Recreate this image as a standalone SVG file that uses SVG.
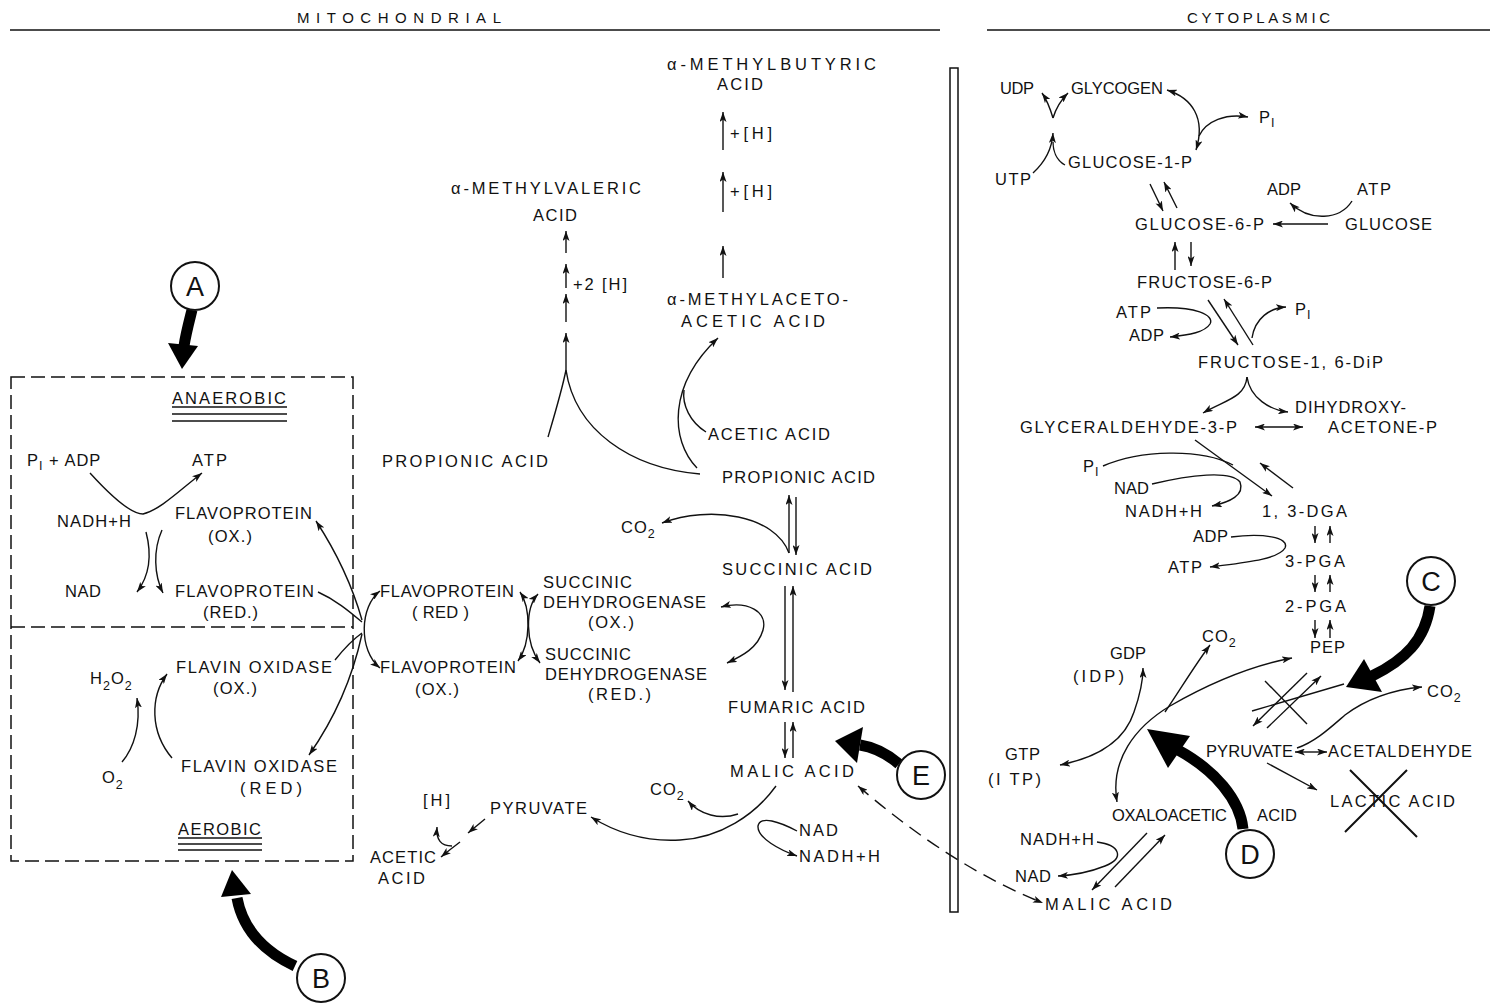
<svg xmlns="http://www.w3.org/2000/svg" width="1490" height="1003" viewBox="0 0 1490 1003">
<defs>
<style>
text{font-family:"Liberation Sans",Arial,sans-serif;font-size:16.5px;fill:#111;letter-spacing:1px}
.h{font-size:15px;letter-spacing:5px}
.lbl{font-size:27px;letter-spacing:0;text-anchor:middle}
.sub{font-size:12.5px}
.c{fill:none;stroke:#111;stroke-width:1.4}
.d{fill:none;stroke:#111;stroke-width:1.4;stroke-dasharray:14 8}
.b{fill:none;stroke:#000;stroke-width:11}
.hd{fill:#000}
.ring{fill:#fff;stroke:#111;stroke-width:2}
.rule{stroke:#111;stroke-width:1.5}
.box{fill:none;stroke:#111;stroke-width:1.5;stroke-dasharray:14 6}
</style>
<marker id="a" viewBox="0 0 10 7" refX="10" refY="3.5" markerWidth="10" markerHeight="7" markerUnits="userSpaceOnUse" orient="auto-start-reverse"><path d="M0,0 L10,3.5 L0,7 L2.5,3.5 z" fill="#111"/></marker>
</defs>
<rect width="1490" height="1003" fill="#fff"/>

<g id="headers">
<text class="h" x="297" y="23" textLength="209">MITOCHONDRIAL</text>
<line class="rule" x1="10" y1="30" x2="940" y2="30"/>
<text class="h" x="1187" y="23" textLength="148">CYTOPLASMIC</text>
<line class="rule" x1="987" y1="30" x2="1490" y2="30"/>
</g>

<g id="membrane"><rect x="950" y="68" width="8" height="844" fill="#fff" stroke="#111" stroke-width="1.5"/></g>

<g id="box-anaerobic-aerobic">
<rect class="box" x="11" y="377" width="342" height="484"/>
<line class="box" x1="11" y1="627" x2="353" y2="627"/>
</g>

<g id="anaerobic-title"><text x="172" y="404" textLength="115">ANAEROBIC</text>
<line class="rule" x1="172" y1="407" x2="287" y2="407" stroke-width="1.2"/><line class="rule" x1="172" y1="414" x2="287" y2="414"/><line class="rule" x1="172" y1="421" x2="287" y2="421"/></g>
<g id="pi-adp"><text x="27" y="466">P<tspan class="sub" dy="4">I</tspan><tspan dy="-4"> + ADP</tspan></text></g>
<g id="atp-1"><text x="192" y="466" textLength="36">ATP</text></g>
<g id="nadh-1"><text x="57" y="527" textLength="75">NADH+H</text></g>
<g id="fp-ox-1"><text x="175" y="519" textLength="138">FLAVOPROTEIN</text><text x="208" y="542" textLength="45">(OX.)</text></g>
<g id="nad-1"><text x="65" y="597" textLength="37">NAD</text></g>
<g id="fp-red-1"><text x="175" y="597" textLength="140">FLAVOPROTEIN</text><text x="203" y="618" textLength="56">(RED.)</text></g>
<g id="h2o2"><text x="90" y="684">H<tspan class="sub" dy="6">2</tspan><tspan dy="-6">O</tspan><tspan class="sub" dy="6">2</tspan></text></g>
<g id="o2"><text x="102" y="783">O<tspan class="sub" dy="6">2</tspan></text></g>
<g id="fo-ox"><text x="176" y="673" textLength="157">FLAVIN OXIDASE</text><text x="213" y="694" textLength="45">(OX.)</text></g>
<g id="fo-red"><text x="181" y="772" textLength="157">FLAVIN OXIDASE</text><text x="240" y="794" textLength="63">(RED)</text></g>
<g id="aerobic-title"><text x="178" y="835" textLength="84">AEROBIC</text>
<line class="rule" x1="178" y1="838" x2="262" y2="838" stroke-width="1.2"/><line class="rule" x1="178" y1="844" x2="262" y2="844"/><line class="rule" x1="178" y1="850" x2="262" y2="850"/></g>

<g id="propionic-1"><text x="382" y="467" textLength="167">PROPIONIC ACID</text></g>
<g id="methylvaleric"><text x="451" y="194" textLength="191">α-METHYLVALERIC</text><text x="533" y="221" textLength="45">ACID</text></g>
<g id="plus2h"><text x="573" y="290" textLength="55">+2 [H]</text></g>
<g id="methylbutyric"><text x="667" y="70" textLength="210">α-METHYLBUTYRIC</text><text x="717" y="90" textLength="47">ACID</text></g>
<g id="plus-h-1"><text x="730" y="139" font-size="18" textLength="43">+[H]</text></g>
<g id="plus-h-2"><text x="730" y="197" font-size="18" textLength="43">+[H]</text></g>
<g id="methylacetoacetic"><text x="667" y="305" textLength="182">α-METHYLACETO-</text><text x="681" y="327" textLength="145">ACETIC ACID</text></g>
<g id="acetic-1"><text x="708" y="440" textLength="123">ACETIC ACID</text></g>
<g id="propionic-2"><text x="722" y="483" textLength="154">PROPIONIC ACID</text></g>
<g id="co2-1"><text x="621" y="533">CO<tspan class="sub" dy="5">2</tspan></text></g>
<g id="succinic"><text x="722" y="575" textLength="151">SUCCINIC ACID</text></g>
<g id="fp-red-2"><text x="380" y="597" textLength="135">FLAVOPROTEIN</text><text x="412" y="618" textLength="58">( RED )</text></g>
<g id="fp-ox-2"><text x="380" y="673" textLength="137">FLAVOPROTEIN</text><text x="415" y="695" textLength="45">(OX.)</text></g>
<g id="sdh-ox"><text x="543" y="588" textLength="90">SUCCINIC</text><text x="543" y="608" textLength="164">DEHYDROGENASE</text><text x="588" y="628" textLength="47">(OX.)</text></g>
<g id="sdh-red"><text x="545" y="660" textLength="87">SUCCINIC</text><text x="545" y="680" textLength="163">DEHYDROGENASE</text><text x="588" y="700" textLength="64">(RED.)</text></g>
<g id="fumaric"><text x="728" y="713" textLength="138">FUMARIC ACID</text></g>
<g id="malic-1"><text x="730" y="777" textLength="125">MALIC ACID</text></g>
<g id="co2-2"><text x="650" y="795">CO<tspan class="sub" dy="5">2</tspan></text></g>
<g id="pyruvate-1"><text x="490" y="814" textLength="98">PYRUVATE</text></g>
<g id="h-1"><text x="423" y="806" font-size="18" textLength="28">[H]</text></g>
<g id="acetic-2"><text x="370" y="863" textLength="67">ACETIC</text><text x="378" y="884" textLength="48">ACID</text></g>
<g id="nad-2"><text x="799" y="836" textLength="40">NAD</text></g>
<g id="nadh-2"><text x="799" y="862" textLength="82">NADH+H</text></g>

<g id="udp"><text x="1000" y="94" textLength="35">UDP</text></g>
<g id="glycogen"><text x="1071" y="94" textLength="93">GLYCOGEN</text></g>
<g id="pi-1"><text x="1259" y="123">P<tspan class="sub" dy="4">I</tspan></text></g>
<g id="g1p"><text x="1068" y="168" textLength="125">GLUCOSE-1-P</text></g>
<g id="utp"><text x="995" y="185" textLength="37">UTP</text></g>
<g id="adp-1"><text x="1267" y="195" textLength="35">ADP</text></g>
<g id="atp-2"><text x="1357" y="195" textLength="35">ATP</text></g>
<g id="g6p"><text x="1135" y="230" textLength="130">GLUCOSE-6-P</text></g>
<g id="glucose"><text x="1345" y="230" textLength="88">GLUCOSE</text></g>
<g id="f6p"><text x="1137" y="288" textLength="136">FRUCTOSE-6-P</text></g>
<g id="atp-3"><text x="1116" y="318" textLength="36">ATP</text></g>
<g id="adp-2"><text x="1129" y="341" textLength="36">ADP</text></g>
<g id="pi-2"><text x="1295" y="315">P<tspan class="sub" dy="4">I</tspan></text></g>
<g id="f16dp"><text x="1198" y="368" textLength="186">FRUCTOSE-1, 6-DiP</text></g>
<g id="dhap"><text x="1295" y="413" textLength="112">DIHYDROXY-</text><text x="1328" y="433" textLength="110">ACETONE-P</text></g>
<g id="gap"><text x="1020" y="433" textLength="218">GLYCERALDEHYDE-3-P</text></g>
<g id="pi-3"><text x="1083" y="472">P<tspan class="sub" dy="4">I</tspan></text></g>
<g id="nad-3"><text x="1114" y="494" textLength="36">NAD</text></g>
<g id="nadh-3"><text x="1125" y="517" textLength="78">NADH+H</text></g>
<g id="dga"><text x="1262" y="517" textLength="86">1, 3-DGA</text></g>
<g id="adp-3"><text x="1193" y="542" textLength="36">ADP</text></g>
<g id="atp-4"><text x="1168" y="573" textLength="35">ATP</text></g>
<g id="pga3"><text x="1285" y="567" textLength="61">3-PGA</text></g>
<g id="pga2"><text x="1285" y="612" textLength="62">2-PGA</text></g>
<g id="pep"><text x="1310" y="653" textLength="36">PEP</text></g>
<g id="co2-3"><text x="1202" y="642">CO<tspan class="sub" dy="5">2</tspan></text></g>
<g id="gdp"><text x="1110" y="659" textLength="37">GDP</text><text x="1073" y="682" textLength="52">(IDP)</text></g>
<g id="co2-4"><text x="1427" y="697">CO<tspan class="sub" dy="5">2</tspan></text></g>
<g id="gtp"><text x="1005" y="760" textLength="36">GTP</text><text x="988" y="785" textLength="54">(I TP)</text></g>
<g id="pyruvate-2"><text x="1206" y="757" textLength="88">PYRUVATE</text></g>
<g id="acetaldehyde"><text x="1328" y="757" textLength="145">ACETALDEHYDE</text></g>
<g id="lactic"><text x="1330" y="807" textLength="126">LACTIC ACID</text>
<path d="M1350,770 L1417,837 M1407,770 L1345,832" stroke="#111" stroke-width="2" fill="none"/></g>
<g id="oaa"><text x="1112" y="821" textLength="116">OXALOACETIC</text><text x="1257" y="821" textLength="41">ACID</text></g>
<g id="nadh-4"><text x="1020" y="845" textLength="75">NADH+H</text></g>
<g id="nad-4"><text x="1015" y="882" textLength="37">NAD</text></g>
<g id="malic-2"><text x="1045" y="910" textLength="128">MALIC ACID</text></g>

<g id="connectors">
<path class="c" d="M90,473 C110,495 130,514 143,514 C160,510 180,490 202,473" marker-end="url(#a)"/>
<path class="c" d="M146,532 C152,555 150,575 137,592" marker-end="url(#a)"/>
<path class="c" d="M162,530 C153,550 154,575 163,593" marker-end="url(#a)"/>
<path class="c" d="M122,762 C134,748 141,725 137,698" marker-end="url(#a)"/>
<path class="c" d="M172,758 C150,732 150,697 167,674" marker-end="url(#a)"/>
<path class="c" d="M316,521 C335,550 352,585 362,620" marker-start="url(#a)"/>
<path class="c" d="M318,592 C336,600 350,612 362,622"/>
<path class="c" d="M335,660 C343,650 352,640 362,633"/>
<path class="c" d="M362,634 C352,680 335,718 309,755" marker-end="url(#a)"/>
<path class="c" d="M380,591 C360,606 358,650 380,668" marker-start="url(#a)" marker-end="url(#a)"/>
<path class="c" d="M520,592 C531,608 531,643 518,661" marker-start="url(#a)" marker-end="url(#a)"/>
<path class="c" d="M538,594 C525,608 525,643 540,663" marker-start="url(#a)" marker-end="url(#a)"/>
<path class="c" d="M721,607 C748,600 768,612 763,630 C758,648 742,656 727,663" marker-start="url(#a)" marker-end="url(#a)"/>
<path class="c" d="M566,253 L566,231" marker-end="url(#a)"/>
<path class="c" d="M566,288 L566,264" marker-end="url(#a)"/>
<path class="c" d="M566,322 L566,294" marker-end="url(#a)"/>
<path class="c" d="M566,370 L566,333" marker-end="url(#a)"/>
<path class="c" d="M548,437 C556,410 562,390 566,370"/>
<path class="c" d="M700,474 C630,468 575,430 566,370"/>
<path class="c" d="M697,468 C670,440 668,385 718,338" marker-end="url(#a)"/>
<path class="c" d="M706,432 C690,422 682,405 684,390"/>
<path class="c" d="M723,150 L723,112" marker-end="url(#a)"/>
<path class="c" d="M723,212 L723,172" marker-end="url(#a)"/>
<path class="c" d="M723,278 L723,246" marker-end="url(#a)"/>
<path class="c" d="M789,553 L789,495" marker-end="url(#a)"/>
<path class="c" d="M796,497 L796,555" marker-end="url(#a)"/>
<path class="c" d="M789,553 C775,515 710,505 662,523" marker-end="url(#a)"/>
<path class="c" d="M785,586 L785,690" marker-end="url(#a)"/>
<path class="c" d="M793,692 L793,586" marker-end="url(#a)"/>
<path class="c" d="M785,722 L785,758" marker-end="url(#a)"/>
<path class="c" d="M793,758 L793,722" marker-end="url(#a)"/>
<path class="c" d="M776,786 C755,815 720,838 680,840 C645,842 615,832 591,817" marker-end="url(#a)"/>
<path class="c" d="M738,814 C720,820 700,815 688,801" marker-end="url(#a)"/>
<path class="c" d="M797,831 C780,822 760,815 758,826 C757,838 780,850 797,856" marker-end="url(#a)"/>
<path class="c" d="M485,819 L468,833" marker-end="url(#a)"/>
<path class="c" d="M460,842 C452,848 447,852 441,857" marker-end="url(#a)"/>
<path class="c" d="M452,846 C441,846 436,840 437,827" marker-end="url(#a)"/>
<path class="d" d="M858,786 C900,822 965,872 1043,903" marker-start="url(#a)" marker-end="url(#a)"/>
<path class="c" d="M1053,118 C1050,108 1047,100 1042,93" marker-end="url(#a)"/>
<path class="c" d="M1053,118 C1056,108 1061,100 1068,93" marker-end="url(#a)"/>
<path class="c" d="M1033,173 C1045,162 1052,150 1053,133" marker-end="url(#a)"/>
<path class="c" d="M1065,165 C1056,160 1053,150 1053,142"/>
<path class="c" d="M1167,90 C1192,98 1206,118 1196,150" marker-start="url(#a)" marker-end="url(#a)"/>
<path class="c" d="M1199,136 C1206,121 1226,113 1248,117" marker-end="url(#a)"/>
<path class="c" d="M1150,184 L1163,211" marker-end="url(#a)"/>
<path class="c" d="M1177,208 L1164,182" marker-end="url(#a)"/>
<path class="c" d="M1328,224 L1273,224" marker-end="url(#a)"/>
<path class="c" d="M1352,201 C1340,220 1310,222 1290,203" marker-end="url(#a)"/>
<path class="c" d="M1175,270 L1175,242" marker-end="url(#a)"/>
<path class="c" d="M1191,242 L1191,266" marker-end="url(#a)"/>
<path class="c" d="M1208,300 L1238,345" marker-end="url(#a)"/>
<path class="c" d="M1253,345 L1224,299" marker-end="url(#a)"/>
<path class="c" d="M1252,338 C1255,318 1270,308 1286,307" marker-end="url(#a)"/>
<path class="c" d="M1157,308 C1195,306 1215,315 1210,324 C1205,332 1190,335 1170,337" marker-end="url(#a)"/>
<path class="c" d="M1247,377 C1245,398 1225,400 1203,413" marker-end="url(#a)"/>
<path class="c" d="M1247,377 C1250,398 1270,410 1288,412" marker-end="url(#a)"/>
<path class="c" d="M1255,427 L1303,427" marker-start="url(#a)" marker-end="url(#a)"/>
<path class="c" d="M1195,440 L1272,496" marker-end="url(#a)"/>
<path class="c" d="M1293,488 L1260,463" marker-end="url(#a)"/>
<path class="c" d="M1103,466 C1140,450 1200,448 1233,465"/>
<path class="c" d="M1152,484 C1190,475 1230,470 1240,482 C1245,495 1230,502 1212,506" marker-end="url(#a)"/>
<path class="c" d="M1315,526 L1315,543" marker-end="url(#a)"/>
<path class="c" d="M1330,543 L1330,526" marker-end="url(#a)"/>
<path class="c" d="M1315,575 L1315,592" marker-end="url(#a)"/>
<path class="c" d="M1330,592 L1330,575" marker-end="url(#a)"/>
<path class="c" d="M1315,620 L1315,638" marker-end="url(#a)"/>
<path class="c" d="M1330,638 L1330,620" marker-end="url(#a)"/>
<path class="c" d="M1231,537 C1262,533 1290,537 1285,548 C1278,560 1240,563 1210,567" marker-end="url(#a)"/>
<path class="c" d="M1117,802 C1110,760 1135,727 1170,706 C1210,683 1250,666 1292,658" marker-start="url(#a)" marker-end="url(#a)"/>
<path class="c" d="M1060,765 C1100,757 1125,740 1134,712 C1140,695 1143,682 1143,668" marker-start="url(#a)" marker-end="url(#a)"/>
<path class="c" d="M1165,712 C1180,690 1195,665 1210,645" marker-end="url(#a)"/>
<path class="c" d="M1307,673 L1253,726" marker-end="url(#a)"/>
<path class="c" d="M1267,728 L1321,676" marker-end="url(#a)"/>
<path class="c" d="M1265,681 L1307,724" stroke-width="2"/>
<path class="c" d="M1252,711 L1344,684" stroke-width="3"/>
<path class="c" d="M1295,752 L1327,752" marker-start="url(#a)" marker-end="url(#a)"/>
<path class="c" d="M1297,748 C1315,742 1330,728 1345,715 C1365,700 1390,690 1422,687" marker-end="url(#a)"/>
<path class="c" d="M1267,763 L1317,790" marker-end="url(#a)"/>
<path class="c" d="M1097,842 C1120,845 1125,858 1105,866 C1090,872 1075,875 1058,876" marker-end="url(#a)"/>
<path class="c" d="M1147,833 L1092,890" marker-end="url(#a)"/>
<path class="c" d="M1115,887 L1165,835" marker-end="url(#a)"/>
</g>

<g id="callout-arrows">
<path class="b" d="M192,310 C189,322 186,333 184,346"/><path class="hd" d="M168,343 L198,346 L182,369 z"/>
<path class="b" d="M295,966 C265,952 243,930 237,898"/><path class="hd" d="M221,897 L251,894 L232,870 z"/>
<path class="b" d="M1430,606 C1425,640 1405,660 1372,676"/><path class="hd" d="M1346,687 L1364,659 L1382,692 z"/>
<path class="b" d="M1243,829 C1240,800 1215,770 1178,750" stroke-width="14"/><path class="hd" d="M1147,729 L1190,736 L1168,768 z"/>
<path class="b" d="M899,764 C885,752 873,747 860,745"/><path class="hd" d="M835,741 L863,727 L857,763 z"/>
</g>

<g id="marker-A"><circle class="ring" cx="195" cy="286" r="24"/><text class="lbl" x="195" y="296">A</text></g>
<g id="marker-B"><circle class="ring" cx="321" cy="978" r="24"/><text class="lbl" x="321" y="988">B</text></g>
<g id="marker-C"><circle class="ring" cx="1431" cy="581" r="24"/><text class="lbl" x="1431" y="591">C</text></g>
<g id="marker-D"><circle class="ring" cx="1250" cy="854" r="24"/><text class="lbl" x="1250" y="864">D</text></g>
<g id="marker-E"><circle class="ring" cx="921" cy="775" r="24"/><text class="lbl" x="921" y="785">E</text></g>
</svg>
